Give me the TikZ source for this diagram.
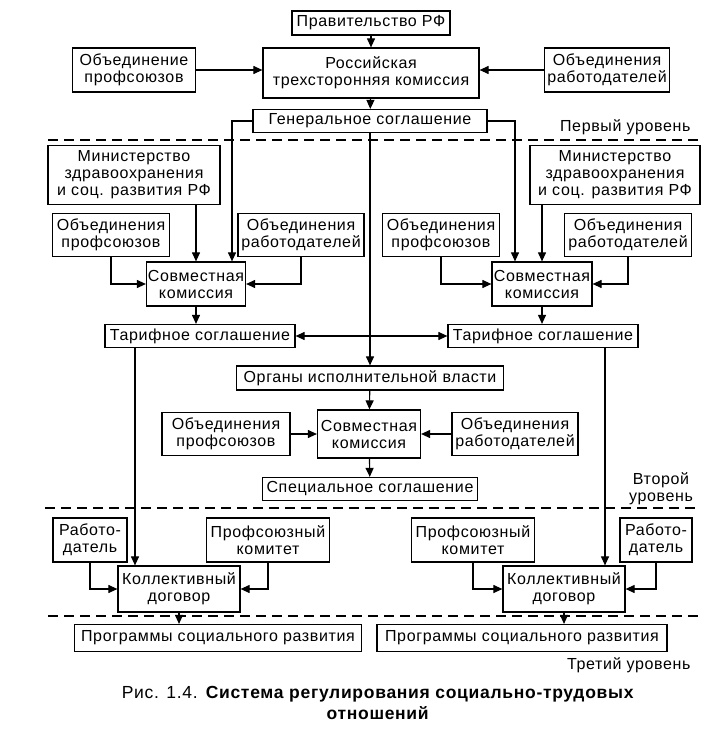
\documentclass[tikz,border=0pt]{standalone}
\usepackage{fontspec}
\setmainfont{Liberation Sans}[LetterSpace=4]
\usetikzlibrary{arrows.meta,positioning,calc}
\tikzset{
  box/.style={draw, line width=1.2pt, align=center, inner sep=1pt, font=\fontsize{16}{17}\selectfont},
  arr/.style={line width=1.1pt, -{Triangle[length=9pt,width=8pt]}},
  darr/.style={line width=1.1pt, {Triangle[length=9pt,width=8pt]}-{Triangle[length=9pt,width=8pt]}},
  sepline/.style={dash pattern=on 10pt off 6pt, line width=1.1pt},
  lvlname/.style={font=\fontsize{16}{17}\selectfont, align=center},
}
\begin{document}
\begin{tikzpicture}[x=1pt,y=-1pt] %[every node/.style={draw}]
\useasboundingbox (0,0) rectangle (725,735);
% federal level
\node[box, minimum width=158, minimum height=24] (prav) at (371,23) {Правительство РФ};
\node[box, minimum width=216, minimum height=50] (rtk) at (371,73) {Российская\\трехсторонняя комиссия};
\node[box, minimum width=123, minimum height=44] (tprof) at (134,70) {Объединение\\профсоюзов};
\node[box, minimum width=125, minimum height=44] (trab) at (607,70) {Объединения\\работодателей};
\node[box, minimum width=234, minimum height=23] (gen) at (370,121) {Генеральное соглашение};
% branch level, left
\node[box, minimum width=172, minimum height=59] (lmin) at (134,175) {Министерство\\здравоохранения\\и соц. развития РФ};
\node[box, minimum width=117, minimum height=43] (lprof) at (111,235) {Объединения\\профсоюзов};
\node[box, minimum width=126, minimum height=43] (lrab) at (301,235) {Объединения\\работодателей};
\node[box, minimum width=99, minimum height=44] (lsov) at (196,284) {Совместная\\комиссия};
\node[box, minimum width=190, minimum height=23] (ltar) at (200,336) {Тарифное соглашение};
% branch level, right
\node[box, minimum width=170, minimum height=59] (rmin) at (615,175) {Министерство\\здравоохранения\\и соц. развития РФ};
\node[box, minimum width=117, minimum height=43] (rprof) at (441,235) {Объединения\\профсоюзов};
\node[box, minimum width=127, minimum height=43] (rrab) at (628,235) {Объединения\\работодателей};
\node[box, minimum width=100, minimum height=44] (rsov) at (542,284) {Совместная\\комиссия};
\node[box, minimum width=190, minimum height=23] (rtar) at (543,336) {Тарифное соглашение};
% regional level
\node[box, minimum width=267, minimum height=24] (org) at (370,378) {Органы исполнительной власти};
\node[box, minimum width=128, minimum height=43] (mprof) at (226,434) {Объединения\\профсоюзов};
\node[box, minimum width=103, minimum height=48] (msov) at (369,434) {Совместная\\комиссия};
\node[box, minimum width=126, minimum height=43] (mrab) at (515,434) {Объединения\\работодателей};
\node[box, minimum width=215, minimum height=23] (spec) at (370,489) {Специальное соглашение};
% enterprise level
\node[box, minimum width=74, minimum height=44] (lemp) at (90,540) {Работо-\\датель};
\node[box, minimum width=123, minimum height=44] (lpk) at (268,540) {Профсоюзный\\комитет};
\node[box, minimum width=122, minimum height=46] (lkol) at (179,589) {Коллективный\\договор};
\node[box, minimum width=287, minimum height=27] (lprog) at (218,638) {Программы социального развития};
\node[box, minimum width=123, minimum height=44] (rpk) at (473,540) {Профсоюзный\\комитет};
\node[box, minimum width=72, minimum height=44] (remp) at (656,540) {Работо-\\датель};
\node[box, minimum width=122, minimum height=46] (rkol) at (564,589) {Коллективный\\договор};
\node[box, minimum width=290, minimum height=27] (rprog) at (522,638) {Программы социального развития};
\coordinate (lsovin) at ([xshift=36pt]lsov.north);
\coordinate (rsovin) at ([xshift=-27pt]rsov.north);
\coordinate (lkolin) at ([xshift=-44pt]lkol.north);
\coordinate (rkolin) at ([xshift=41pt]rkol.north);
% levels
\draw[sepline] (48,140) -- (700,140);
\draw[sepline] (45,508) -- (700,508);
\draw[sepline] (48,616) -- (700,616);
\node[lvlname, anchor=east] (lvl1) at (694,127) {Первый уровень};
\node[lvlname] (lvl2) at (661,489) {Второй\\уровень};
\node[lvlname, anchor=east] (lvl3) at (694,665) {Третий уровень};
% connectors
\draw[arr] (prav) -- (rtk);
\draw[arr] (tprof.east) -- (tprof.east -| rtk.west);
\draw[arr] (trab.west) -- (trab.west -| rtk.east);
\draw[arr] (rtk) -- (gen);
\draw[arr] (gen.west) -| (lsovin);
\draw[arr] (gen.east) -| (rsovin);
\draw[arr] (gen) -- (org);
\draw[arr] (lmin.south -| lsov.north) -- (lsov.north);
\draw[arr] (lprof.south) |- (lsov.west);
\draw[arr] (lrab.south) |- (lsov.east);
\draw[arr] (lsov.south) -- (lsov.south |- ltar.north);
\draw[arr] (rmin.south -| rsov.north) -- (rsov.north);
\draw[arr] (rprof.south) |- (rsov.west);
\draw[arr] (rrab.south) |- (rsov.east);
\draw[arr] (rsov.south) -- (rsov.south |- rtar.north);
\draw[darr] (ltar.east) -- (rtar.west);
\draw[arr] (ltar.south -| lkolin) -- (lkolin);
\draw[arr] (rtar.south -| rkolin) -- (rkolin);
\draw[arr] (org) -- (msov);
\draw[arr] (mprof) -- (msov);
\draw[arr] (mrab) -- (msov);
\draw[arr] (msov) -- (spec);
\draw[arr] (lemp.south) |- (lkol.west);
\draw[arr] (lpk.south) |- (lkol.east);
\draw[arr] (lkol.south) -- (lkol.south |- lprog.north);
\draw[arr] (rpk.south) |- (rkol.west);
\draw[arr] (remp.south) |- (rkol.east);
\draw[arr] (rkol.south) -- (rkol.south |- rprog.north);
% caption
\node[lvlname, font=\fontsize{17.5}{21}\selectfont] (capt) at (378,703) {Рис. 1.4. \textbf{Система регулирования социально-трудовых}\\\textbf{отношений}};
\end{tikzpicture}
\end{document}
